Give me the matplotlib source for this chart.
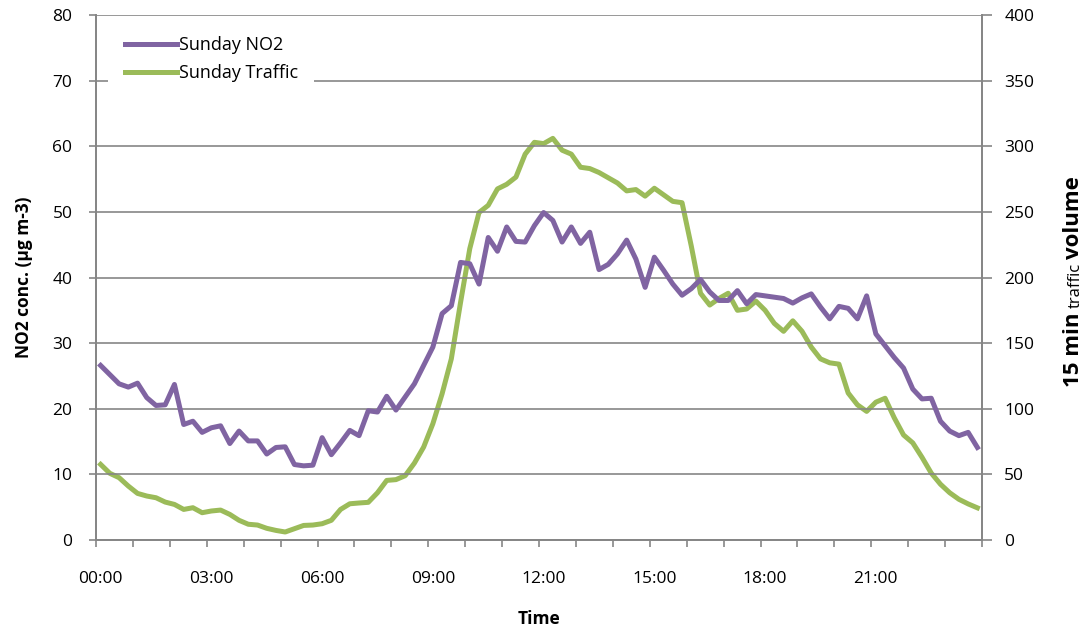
import matplotlib
matplotlib.use("Agg")
import matplotlib.pyplot as plt

# 15-minute slots, 00:00 .. 23:45
tick_labels = ["00:00", "03:00", "06:00", "09:00", "12:00", "15:00", "18:00", "21:00"]

sunday_no2 = [
    26.6, 25.2, 23.8, 23.3, 23.9, 21.7, 20.5, 20.6, 23.7, 17.6, 18.1, 16.4,
    17.1, 17.4, 14.7, 16.6, 15.1, 15.1, 13.1, 14.1, 14.2, 11.5, 11.3, 11.4,
    15.6, 13.0, 14.8, 16.7, 15.9, 19.7, 19.5, 21.9, 19.8, 21.8, 23.8, 26.6,
    29.4, 34.5, 35.7, 42.3, 42.1, 39.0, 46.1, 44.0, 47.7, 45.5, 45.4, 47.9,
    49.9, 48.7, 45.4, 47.7, 45.2, 46.9, 41.2, 42.0, 43.6, 45.7, 42.8, 38.5,
    43.1, 41.1, 39.0, 37.3, 38.3, 39.7, 37.8, 36.5, 36.5, 38.0, 36.0, 37.4,
    37.2, 37.0, 36.8, 36.1, 36.9, 37.5, 35.5, 33.7, 35.6, 35.3, 33.7, 37.2,
    31.4, 29.6, 27.8, 26.2, 23.0, 21.5, 21.6, 18.1, 16.6, 15.9, 16.4, 14.1,
]

sunday_traffic = [
    57.6, 50.8, 47.5, 41.1, 35.5, 33.5, 32.2, 28.9, 27.1, 23.3, 24.6, 20.8,
    22.1, 22.8, 19.5, 15.0, 12.0, 11.4, 8.9, 7.3, 6.1, 8.6, 11.1, 11.4,
    12.4, 15.0, 23.3, 27.6, 28.2, 28.7, 36.0, 45.4, 46.0, 49.0, 58.6, 70.8,
    88.6, 111.4, 138.0, 181.0, 222.0, 249.5, 255.0, 267.5, 271.0, 276.5, 294.0, 303.0,
    302.0, 306.0, 297.0, 294.0, 284.0, 283.0, 280.0, 276.0, 272.0, 266.0, 267.0, 262.0,
    268.0, 263.0, 258.0, 257.0, 224.0, 188.0, 179.0, 184.0, 188.0, 175.0, 176.0, 182.0,
    175.0, 165.0, 159.0, 167.0, 159.0, 147.0, 138.0, 135.0, 134.0, 112.0, 103.0, 98.0,
    105.0, 108.0, 93.0, 80.0, 74.0, 63.0, 51.0, 42.5, 36.0, 31.0, 27.5, 24.5,
]

PURPLE = "#8064A2"
GREEN = "#9BBB59"
GREY = "#868686"
FONT = "Open Sans"

plt.rcParams["font.family"] = [FONT, "DejaVu Sans"]

x = list(range(len(sunday_no2)))

fig = plt.figure(figsize=(10.9, 6.37), dpi=100)
ax = fig.add_axes([96 / 1090, 1 - 540 / 637, (982 - 96) / 1090, (540 - 15) / 637])
ax2 = ax.twinx()

# draw traffic on the twin axis, but keep NO2 on top
ax2.plot(x, sunday_traffic, color=GREEN, lw=3.6, solid_joinstyle="round")
ax.set_zorder(ax2.get_zorder() + 1)
ax.patch.set_visible(False)
l1, = ax.plot(x, sunday_no2, color=PURPLE, lw=3.6, solid_joinstyle="round", label="Sunday NO2")
l2, = ax.plot([], [], color=GREEN, lw=3.6, label="Sunday Traffic")

ax.set_xlim(-0.5, 95.5)
ax.set_ylim(0, 80)
ax2.set_ylim(0, 400)
ax.set_yticks(range(0, 81, 10))
ax2.set_yticks(range(0, 401, 50))

ax.set_xticks(range(0, 96, 12))
ax.set_xticklabels(tick_labels)
ax.set_xticks([h * 4 - 0.5 for h in range(25)], minor=True)
ax.tick_params(axis="x", which="major", length=0, pad=22, labelsize=12.5)
ax.tick_params(axis="x", which="minor", length=5, width=1.2, color=GREY, direction="out")
ax.tick_params(axis="y", length=5, width=1.2, color=GREY, pad=12, labelsize=12.5)
ax2.tick_params(axis="y", length=7, width=1.2, color=GREY, pad=9, labelsize=12.5)

ax.grid(axis="y", color=GREY, lw=1.2)
ax.set_axisbelow(True)

for a in (ax, ax2):
    for side, sp in a.spines.items():
        sp.set_color(GREY)
        sp.set_linewidth(1.3)
    a.spines["top"].set_visible(False)

ax.set_ylabel("NO2 conc. (\u00b5g m-3)", fontsize=12.5, fontweight="bold", labelpad=14)
ax.set_xlabel("Time", fontsize=12.5, fontweight="bold", labelpad=17)

leg = ax.legend(handles=[l1, l2], loc="upper left", bbox_to_anchor=(0.014, 0.99),
                borderaxespad=0, frameon=True, fontsize=13, handlelength=2.9,
                handletextpad=0.1, labelspacing=0.55, borderpad=0.9, framealpha=1,
                fancybox=False)
leg.get_frame().set_edgecolor("none")
leg.get_frame().set_facecolor("white")

# right axis title with mixed font sizes
t1 = fig.text(1084 / 1090, 1 - 387 / 637, "15 min", rotation=90, ha="right", va="bottom",
              fontsize=16, fontweight="bold")
t2 = ax.annotate("traffic", xy=(1, 1), xycoords=t1, xytext=(0, 3), textcoords="offset points",
                 rotation=90, ha="right", va="bottom", fontsize=12)
t3 = ax.annotate("volume", xy=(1, 1), xycoords=t2, xytext=(0, 3), textcoords="offset points",
                 rotation=90, ha="right", va="bottom", fontsize=16, fontweight="bold")

fig.savefig("out.png", dpi=100)
